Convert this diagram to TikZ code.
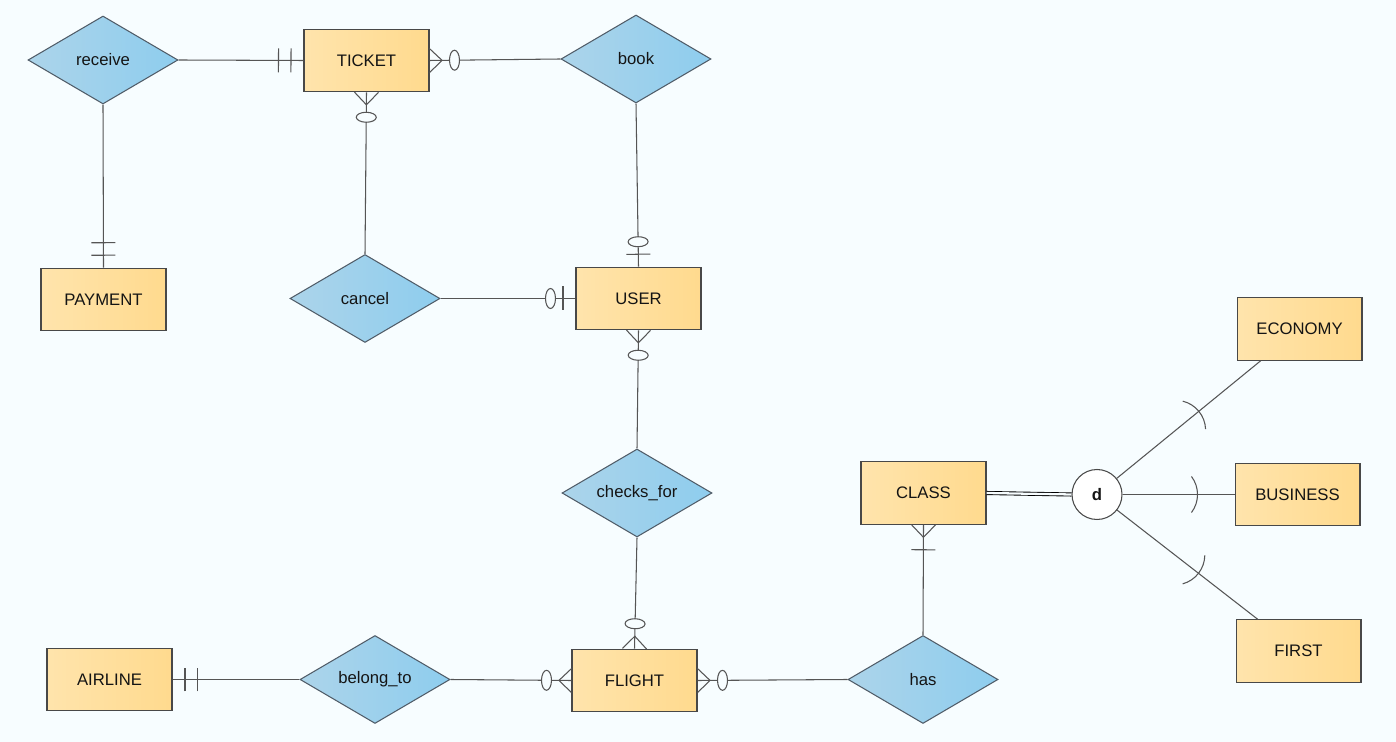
\documentclass[tikz,border=0pt]{standalone}
\usepackage{fontspec}
\setmainfont{Liberation Sans}
\usetikzlibrary{shapes.geometric, decorations.markings}

\definecolor{bgcol}{RGB}{247,253,255}
\definecolor{textcol}{RGB}{20,20,20}
\definecolor{linecol}{RGB}{85,85,85}
\definecolor{entline}{RGB}{72,72,72}
\definecolor{entleft}{RGB}{255,228,172}
\definecolor{entright}{RGB}{255,218,142}
\definecolor{relline}{RGB}{80,92,104}
\definecolor{relleft}{RGB}{172,212,234}
\definecolor{relright}{RGB}{142,205,238}

\begin{document}
\begin{tikzpicture}[x=0.02cm, y=0.02cm]
            \tikzstyle{every node}+=[inner sep=0pt, text=textcol, font=\fontsize{9.5}{11}\selectfont]
            \tikzstyle{entity}=[rectangle, draw=entline, line width=0.6pt, minimum width=2.5cm, minimum height=1.25cm, left color=entleft, right color=entright]
            \tikzstyle{relation}=[diamond, aspect=1.7, draw=relline, line width=0.6pt, minimum width=3cm, minimum height=1.76cm, left color=relleft, right color=relright]
            \tikzstyle{link}=[draw=linecol, color=linecol, line width=0.6pt]
            \tikzstyle{onebar}=[postaction={decorate, decoration={markings, mark=at position 0.25cm with {\draw[linecol] (0,-0.24cm) -- (0,0.24cm);}}}]
            \tikzstyle{twobar}=[onebar, postaction={decorate, decoration={markings, mark=at position 0.5cm with {\draw[linecol] (0,-0.24cm) -- (0,0.24cm);}}}]
            \tikzstyle{crow}=[postaction={decorate, decoration={markings, mark=at position 0.01pt with {\draw[linecol] (0,0.24cm) -- (0.25cm,0) -- (0,-0.24cm);}}}]
            \tikzstyle{zeroone}=[onebar, postaction={decorate, decoration={markings, mark=at position 0.5cm with {\draw[linecol, fill=bgcol] (0,0) ellipse (0.1cm and 0.2cm);}}}]
            \tikzstyle{zeromany}=[crow, postaction={decorate, decoration={markings, mark=at position 0.5cm with {\draw[linecol, fill=bgcol] (0,0) ellipse (0.1cm and 0.2cm);}}}]
            \tikzstyle{onemany}=[crow, postaction={decorate, decoration={markings, mark=at position 0.5cm with {\draw[linecol] (0,-0.24cm) -- (0,0.24cm);}}}]
            \tikzset{subsetat/.style={postaction={decorate, decoration={markings, mark=at position #1 with {\draw[linecol] (-0.6cm,0) ++(-37:0.6cm) arc[start angle=-37, end angle=37, radius=0.6cm];}}}}}
            \fill [bgcol] (0,0) rectangle (1396,-742);
            \useasboundingbox (0,0) rectangle (1396,-742);
            % entities
            \draw (366.5,-60.5) node [entity] (ticket) {TICKET};
            \draw (103.5,-299.5) node [entity] (payment) {PAYMENT};
            \draw (638.5,-298.5) node [entity] (user) {USER};
            \draw (634.5,-680.5) node [entity] (flight) {FLIGHT};
            \draw (109.5,-679.5) node [entity] (airline) {AIRLINE};
            \draw (923.5,-493) node [entity] (class) {CLASS};
            \draw (1299.5,-329) node [entity] (economy) {ECONOMY};
            \draw (1297.5,-494.5) node [entity] (business) {BUSINESS};
            \draw (1298.5,-651) node [entity] (first) {FIRST};
            % relationships
            \draw (103,-60) node [relation] (receive) {receive};
            \draw (636,-59) node [relation] (book) {book};
            \draw (365,-298.5) node [relation] (cancel) {cancel};
            \draw (637,-493) node [relation] (checks) {checks\_for};
            \draw (375,-679.5) node [relation] (belong) {belong\_to};
            \draw (923,-679.5) node [relation] (has) {has};
            \draw (1097,-494.5) node [circle, draw=entline, fill=white, line width=0.6pt, minimum size=1cm, font=\fontsize{9.5}{11}\selectfont\bfseries] (d) {d};
            % connectors
            \draw [link, twobar] (ticket.west) -- (receive.east);
            \draw [link, twobar] (payment.north) -- (receive.south);
            \draw [link, zeromany] (ticket.east) -- (book.west);
            \draw [link, zeromany] (ticket.south) -- (cancel.north);
            \draw [link, zeroone] (user.north) -- (book.south);
            \draw [link, zeroone] (user.west) -- (cancel.east);
            \draw [link, zeromany] (user.south) -- (checks.north);
            \draw [link, zeromany] (flight.north) -- (checks.south);
            \draw [link, zeromany] (flight.west) -- (belong.east);
            \draw [link, twobar] (airline.east) -- (belong.west);
            \draw [link, zeromany] (flight.east) -- (has.west);
            \draw [link, onemany] (class.south) -- (has.north);
            \draw [black, line width=0.5pt, double=bgcol, double distance=1.3pt] (class.east) -- (d.west);
            \draw [link, subsetat=2.12cm] (d) -- (economy);
            \draw [link, subsetat=1.5cm] (d) -- (business);
            \draw [link, subsetat=2.06cm] (d) -- (first);
\end{tikzpicture}
\end{document}
